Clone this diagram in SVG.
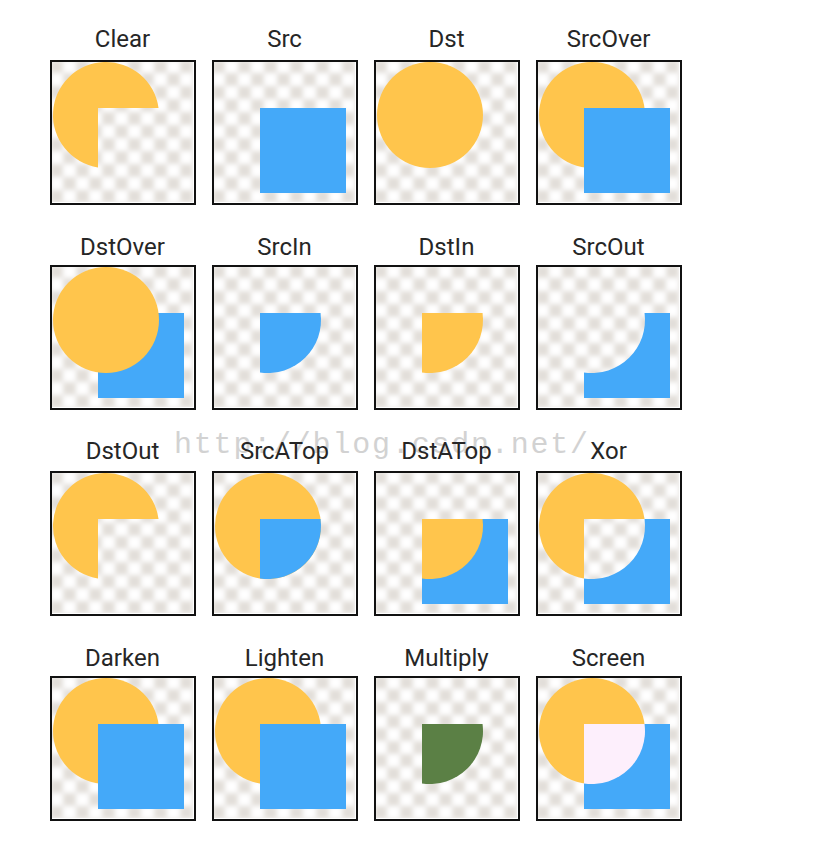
<svg xmlns="http://www.w3.org/2000/svg" xmlns:xlink="http://www.w3.org/1999/xlink" width="836" height="864" viewBox="0 0 836 864">
<style>
.lbl{font-family:Roboto,"Liberation Sans",sans-serif;font-size:24px;fill:#262626;text-anchor:middle}
.box{fill:none;stroke:#111;stroke-width:2}
.dst{fill:#FFC54C}
.src{fill:#44A9F9}
.wm{font-family:"Liberation Mono",monospace;font-size:30px;fill:#d2d2d2;letter-spacing:1.8px}
</style>
<defs>
<pattern id="chk" width="26" height="26" patternUnits="userSpaceOnUse">
<rect width="26" height="26" fill="#ffffff"/>
<rect width="13" height="13" fill="#e2ded9"/>
<rect x="13" y="13" width="13" height="13" fill="#e2ded9"/>
</pattern>
<filter id="soft" x="-10%" y="-10%" width="120%" height="120%"><feGaussianBlur stdDeviation="2.5"/></filter>
<clipPath id="inner"><rect x="2" y="2" width="141" height="140"/></clipPath>
<g id="bg"><g clip-path="url(#inner)"><rect x="-6" y="-6" width="157" height="156" fill="url(#chk)" filter="url(#soft)"/></g></g>
<circle id="circ" cx="56" cy="55" r="53"/>
<rect id="sq" x="48" y="48" width="86" height="85"/>
<path id="lens" d="M48,48 L108.54,48 A53,53 0 0 1 48,107.39 Z"/>
<path id="cminus" d="M108.54,48 A53,53 0 1 0 48,107.39 L48,48 Z"/>
<path id="sminus" d="M108.54,48 L134,48 L134,133 L48,133 L48,107.39 A53,53 0 0 0 108.54,48 Z"/>
<rect id="frame" x="1" y="1" width="144" height="143"/>
</defs>
<rect width="836" height="864" fill="#ffffff"/>
<text class="wm" x="174" y="453">http://blog.csdn.net/</text>
<g id="connectors"/>
<g id="clear" transform="translate(50,60)"><use href="#bg"/><use href="#cminus" class="dst"/><use href="#frame" class="box"/></g>
<g id="src" transform="translate(212,60)"><use href="#bg"/><use href="#sq" class="src"/><use href="#frame" class="box"/></g>
<g id="dst" transform="translate(374,60)"><use href="#bg"/><use href="#circ" class="dst"/><use href="#frame" class="box"/></g>
<g id="srcover" transform="translate(536,60)"><use href="#bg"/><use href="#circ" class="dst"/><use href="#sq" class="src"/><use href="#frame" class="box"/></g>
<g id="dstover" transform="translate(50,265)"><use href="#bg"/><use href="#sq" class="src"/><use href="#circ" class="dst"/><use href="#frame" class="box"/></g>
<g id="srcin" transform="translate(212,265)"><use href="#bg"/><use href="#lens" class="src"/><use href="#frame" class="box"/></g>
<g id="dstin" transform="translate(374,265)"><use href="#bg"/><use href="#lens" class="dst"/><use href="#frame" class="box"/></g>
<g id="srcout" transform="translate(536,265)"><use href="#bg"/><use href="#sminus" class="src"/><use href="#frame" class="box"/></g>
<g id="dstout" transform="translate(50,471)"><use href="#bg"/><use href="#cminus" class="dst"/><use href="#frame" class="box"/></g>
<g id="srcatop" transform="translate(212,471)"><use href="#bg"/><use href="#circ" class="dst"/><use href="#lens" class="src"/><use href="#frame" class="box"/></g>
<g id="dstatop" transform="translate(374,471)"><use href="#bg"/><use href="#sq" class="src"/><use href="#lens" class="dst"/><use href="#frame" class="box"/></g>
<g id="xor" transform="translate(536,471)"><use href="#bg"/><use href="#cminus" class="dst"/><use href="#sminus" class="src"/><use href="#frame" class="box"/></g>
<g id="darken" transform="translate(50,676)"><use href="#bg"/><use href="#circ" class="dst"/><use href="#sq" class="src"/><use href="#frame" class="box"/></g>
<g id="lighten" transform="translate(212,676)"><use href="#bg"/><use href="#circ" class="dst"/><use href="#sq" class="src"/><use href="#frame" class="box"/></g>
<g id="multiply" transform="translate(374,676)"><use href="#bg"/><use href="#lens" fill="#5B8045"/><use href="#frame" class="box"/></g>
<g id="screen" transform="translate(536,676)"><use href="#bg"/><use href="#circ" class="dst"/><use href="#sq" class="src"/><use href="#lens" fill="#FDEFFC"/><use href="#frame" class="box"/></g>
<g id="labels">
<text class="lbl" x="122.5" y="47">Clear</text>
<text class="lbl" x="284.5" y="47">Src</text>
<text class="lbl" x="446.5" y="47">Dst</text>
<text class="lbl" x="608.5" y="47">SrcOver</text>
<text class="lbl" x="122.5" y="255">DstOver</text>
<text class="lbl" x="284.5" y="255">SrcIn</text>
<text class="lbl" x="446.5" y="255">DstIn</text>
<text class="lbl" x="608.5" y="255">SrcOut</text>
<text class="lbl" x="122.5" y="459">DstOut</text>
<text class="lbl" x="284.5" y="459">SrcATop</text>
<text class="lbl" x="446.5" y="459">DstATop</text>
<text class="lbl" x="608.5" y="459">Xor</text>
<text class="lbl" x="122.5" y="666">Darken</text>
<text class="lbl" x="284.5" y="666">Lighten</text>
<text class="lbl" x="446.5" y="666">Multiply</text>
<text class="lbl" x="608.5" y="666">Screen</text>
</g>
</svg>
